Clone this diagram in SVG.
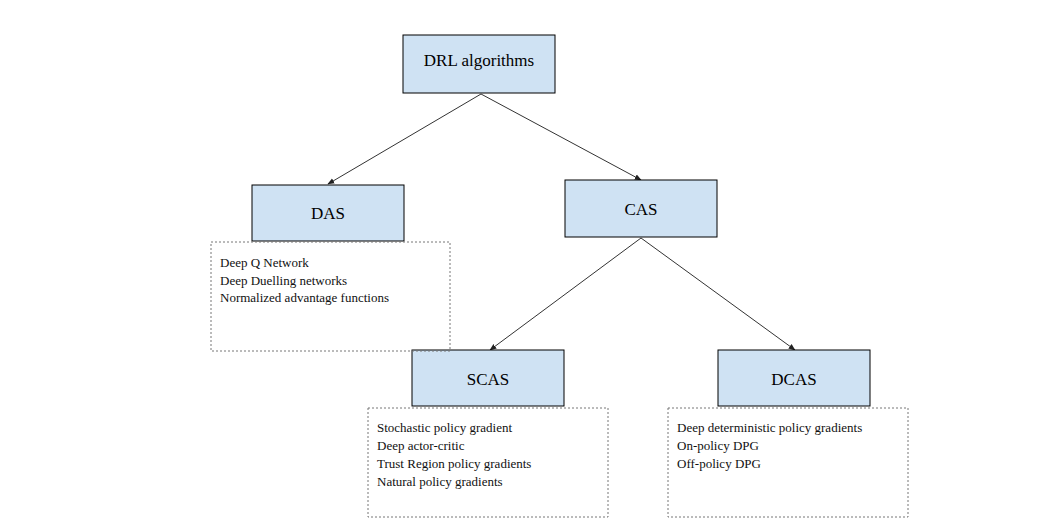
<svg xmlns="http://www.w3.org/2000/svg" width="1049" height="524" viewBox="0 0 1049 524">
<style>
.n{fill:#cfe2f3;stroke:#000;stroke-width:1}
.t{font-family:"Liberation Serif",serif;font-size:17px;text-anchor:middle;fill:#000}
.l{fill:none;stroke:#777;stroke-width:1;stroke-dasharray:2,2}
.s{font-family:"Liberation Serif",serif;font-size:13px;fill:#111}
.c{stroke:#333;stroke-width:1;fill:none;marker-end:url(#a)}
</style>
<defs><marker id="a" viewBox="0 0 10 10" refX="9" refY="5" markerWidth="7" markerHeight="7" orient="auto"><path d="M0,1 L10,5 L0,9 z" fill="#222"/></marker></defs>
<rect width="1049" height="524" fill="#fff"/>
<g id="connectors">
<line class="c" x1="481" y1="94" x2="328" y2="184"/>
<line class="c" x1="481" y1="94" x2="641" y2="180"/>
<line class="c" x1="641" y1="238" x2="490" y2="350"/>
<line class="c" x1="641" y1="238" x2="795" y2="350"/>
</g>
<g id="drl"><rect class="n" x="403" y="35" width="152" height="58"/><text class="t" x="479" y="66">DRL algorithms</text></g>
<g id="das"><rect class="n" x="252" y="185" width="152" height="56"/><text class="t" x="328" y="219">DAS</text></g>
<g id="cas"><rect class="n" x="565" y="180" width="152" height="57"/><text class="t" x="641" y="215">CAS</text></g>
<g id="scas"><rect class="n" x="412" y="350" width="152" height="56"/><text class="t" x="488" y="385">SCAS</text></g>
<g id="dcas"><rect class="n" x="718" y="350" width="152" height="56"/><text class="t" x="794" y="385">DCAS</text></g>
<g id="das-list"><rect class="l" x="211" y="242" width="239" height="109"/>
<text class="s" x="220" y="267">Deep Q Network</text><text class="s" x="220" y="285">Deep Duelling networks</text><text class="s" x="220" y="302">Normalized advantage functions</text></g>
<g id="scas-list"><rect class="l" x="368" y="408" width="240" height="109"/>
<text class="s" x="377" y="432">Stochastic policy gradient</text><text class="s" x="377" y="450">Deep actor-critic</text><text class="s" x="377" y="468">Trust Region policy gradients</text><text class="s" x="377" y="486">Natural policy gradients</text></g>
<g id="dcas-list"><rect class="l" x="668" y="408" width="240" height="109"/>
<text class="s" x="677" y="432">Deep deterministic policy gradients</text><text class="s" x="677" y="450">On-policy DPG</text><text class="s" x="677" y="468">Off-policy DPG</text></g>
</svg>
